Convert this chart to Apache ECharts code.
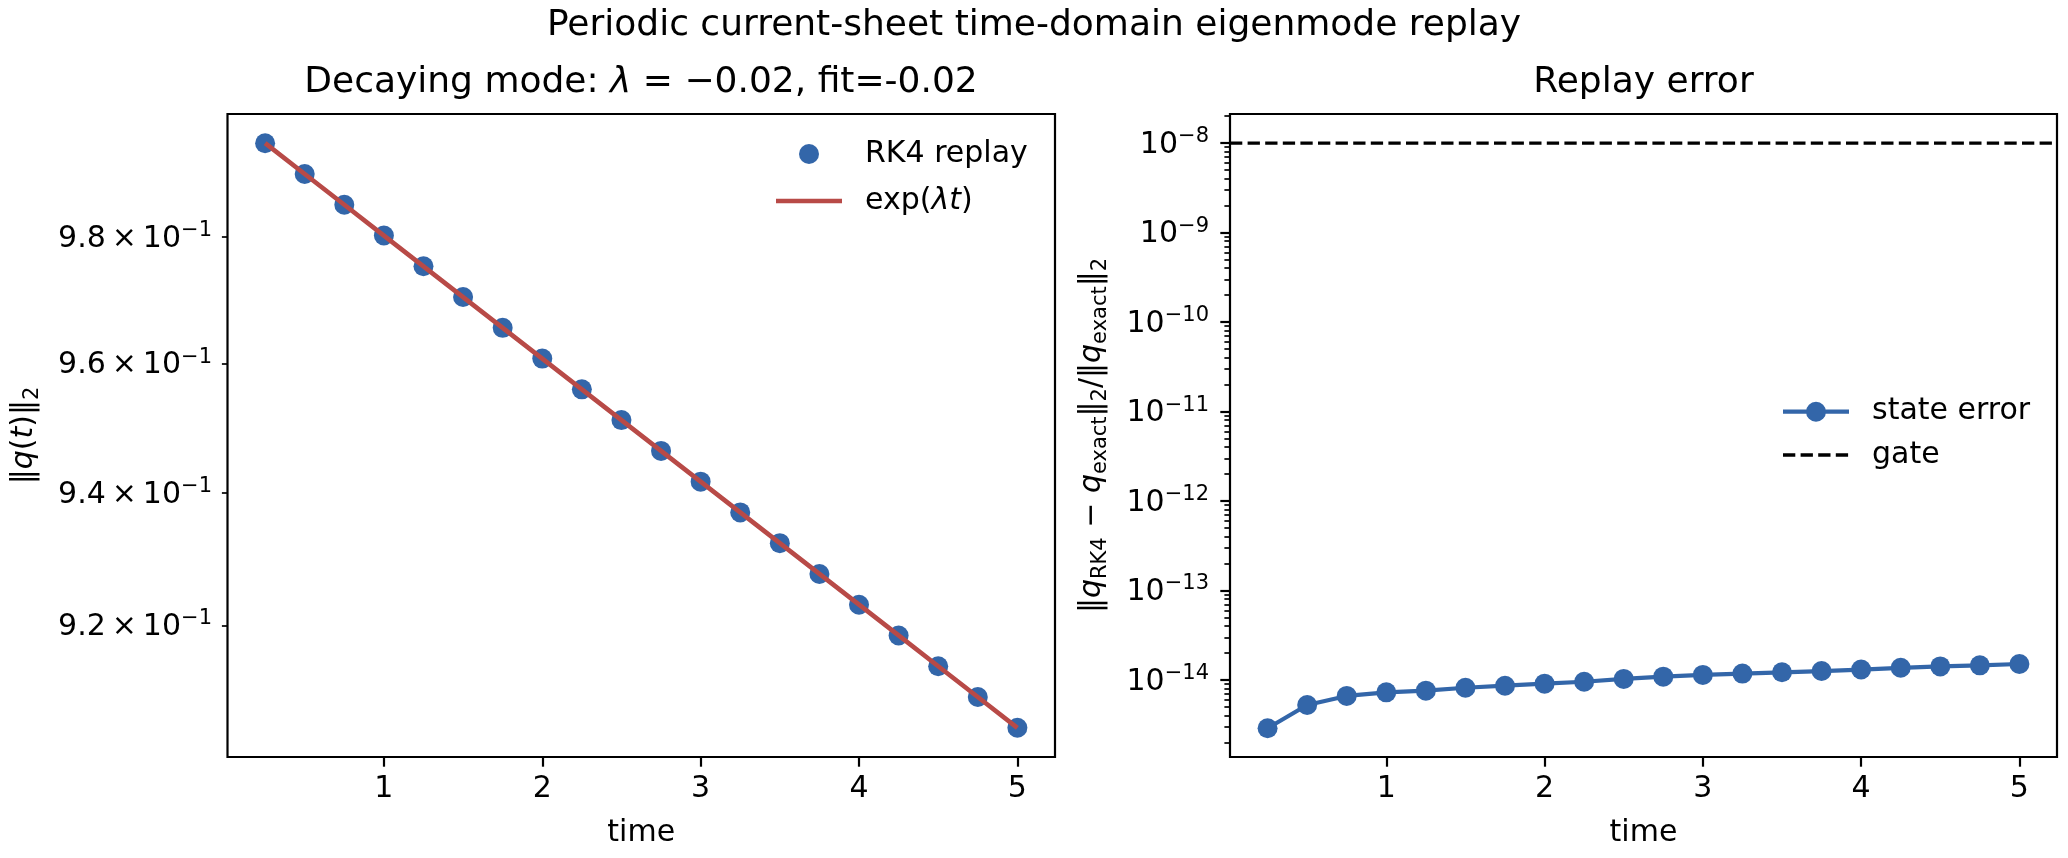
<!DOCTYPE html>
<html>
<head>
<meta charset="utf-8">
<script src="https://cdn.jsdelivr.net/npm/echarts@6/dist/echarts.min.js"></script>
<style>
html,body{margin:0;padding:0;background:#fff;}
#chart{width:2068px;height:858px;}
</style>
</head>
<body>
<div id="chart"></div>
<script>
// ---------------- data ----------------
const times = [0.25, 0.5, 0.75, 1.0, 1.25, 1.5, 1.75, 2.0, 2.25, 2.5,
               2.75, 3.0, 3.25, 3.5, 3.75, 4.0, 4.25, 4.5, 4.75, 5.0];
const rk4Norm = [0.995012, 0.990050, 0.985112, 0.980199, 0.975310, 0.970446, 0.965605, 0.960789, 0.955997, 0.951229,
                 0.946485, 0.941765, 0.937067, 0.932394, 0.927743, 0.923116, 0.918512, 0.913931, 0.909373, 0.904837];
const expNorm = [0.995012, 0.990050, 0.985112, 0.980199, 0.975310, 0.970446, 0.965605, 0.960789, 0.955997, 0.951229,
                 0.946485, 0.941765, 0.937067, 0.932394, 0.927743, 0.923116, 0.918512, 0.913931, 0.909373, 0.904837];
const stateError = [2.89e-15, 5.26e-15, 6.64e-15, 7.29e-15, 7.60e-15, 8.20e-15, 8.64e-15, 9.10e-15, 9.57e-15, 1.03e-14,
                    1.09e-14, 1.14e-14, 1.18e-14, 1.22e-14, 1.26e-14, 1.31e-14, 1.37e-14, 1.42e-14, 1.46e-14, 1.51e-14];
const gateLevel = 1e-8;

const xTicks = [1, 2, 3, 4, 5];
const leftYTicks = [0.92, 0.94, 0.96, 0.98];
const leftYTickLabels = ['9.2', '9.4', '9.6', '9.8'];
const rightYTicks = [1e-14, 1e-13, 1e-12, 1e-11, 1e-10, 1e-9, 1e-8];
const rightYTickExps = ['−14', '−13', '−12', '−11', '−10', '−9', '−8'];

const suptitle = 'Periodic current-sheet time-domain eigenmode replay';
const leftTitle = '{n|Decaying mode: }{i|λ}{n| = −0.02, fit=-0.02}';
const rightTitle = 'Replay error';

// ---------------- styling ----------------
const FONT = 'DejaVu Sans';
const BLUE = '#3366a9';
const RED = '#b84a47';

const xMin = 0.0125, xMax = 5.2375;
const leftYMin = 0.90055, leftYMax = 0.99975;
const rightYMin = 1.38e-15, rightYMax = 2.113e-8;

const rightYMinor = [];
for (let e = -15; e <= -8; e++) {
  for (let m = 2; m <= 9; m++) {
    const v = m * Math.pow(10, e);
    if (v > rightYMin && v < rightYMax) rightYMinor.push(v);
  }
}

const richBase = {
  b: {fontSize: 30, fontFamily: FONT, color: '#000', lineHeight: 30, verticalAlign: 'bottom'},
  s: {fontSize: 21, fontFamily: FONT, color: '#000', lineHeight: 34, padding: [0, 0, 13, 0], verticalAlign: 'bottom'}
};
const richName = {
  n: {fontSize: 30, fontFamily: FONT, color: '#000', lineHeight: 30, verticalAlign: 'top'},
  i: {fontSize: 30, fontFamily: FONT, fontStyle: 'italic', color: '#000', lineHeight: 30, verticalAlign: 'top'},
  sub: {fontSize: 21, fontFamily: FONT, color: '#000', lineHeight: 34, padding: [13, 0, 0, 0], verticalAlign: 'bottom'}
};
const richTitle = {
  n: {fontSize: 36, fontFamily: FONT, color: '#000', lineHeight: 40},
  i: {fontSize: 36, fontFamily: FONT, fontStyle: 'italic', color: '#000', lineHeight: 40}
};
const richLegend = {
  n: {fontSize: 30, fontFamily: FONT, color: '#000', lineHeight: 30},
  i: {fontSize: 30, fontFamily: FONT, fontStyle: 'italic', color: '#000', lineHeight: 30}
};

const ICON_DOT = 'path://M0,0M84,20M43,10A10,10,0,1,1,23,10A10,10,0,1,1,43,10Z';
const ICON_RED = 'path://M0,0M84,20M0,7.65H66V12.35H0Z';
const ICON_LINE_DOT = 'path://M0,0M84,20M0,7.9H66V12.1H0Z M43,10A10,10,0,1,1,23,10A10,10,0,1,1,43,10Z';
const ICON_DASH = 'path://M0,0M84,20M0,8.35H12.3V11.65H0Z M17.6,8.35H29.9V11.65H17.6Z M35.2,8.35H47.5V11.65H35.2Z M52.8,8.35H65.1V11.65H52.8Z';

const legendNames = {
  'RK4 replay': '{n|RK4 replay}',
  'exp(λt)': '{n|exp(}{i|λt}{n|)}',
  'state error': '{n|state error}',
  'gate': '{n|gate}'
};

function pairs(xs, ys) { return xs.map((x, i) => [x, ys[i]]); }

const xAxisCommon = (gi) => ({
  type: 'value', gridIndex: gi, min: xMin, max: xMax, position: 'bottom',
  axisLine: {show: false, onZero: false},
  splitLine: {show: false},
  axisTick: {show: true, customValues: xTicks, length: 9.7, lineStyle: {color: '#000', width: 2.2}},
  axisLabel: {customValues: xTicks, margin: 17, fontSize: 30, fontFamily: FONT, color: '#000'},
  name: 'time', nameLocation: 'middle', nameGap: 61, nameMoveOverlap: false,
  nameTextStyle: {fontSize: 30, fontFamily: FONT, color: '#000', lineHeight: 30}
});

const gridCommon = {show: true, borderColor: '#000', borderWidth: 2.2, backgroundColor: 'transparent',
                    containLabel: false, outerBoundsMode: 'none', top: 114, height: 643};

const option = {
  animation: false,
  backgroundColor: '#fff',
  textStyle: {fontFamily: FONT},
  title: [
    {text: suptitle, left: 1034, top: 6, padding: 0, textAlign: 'center', textVerticalAlign: 'top',
     textStyle: {fontSize: 36, fontWeight: 'normal', fontFamily: FONT, color: '#000', lineHeight: 40}},
    {text: leftTitle, left: 641, top: 63, padding: 0, textAlign: 'center', textVerticalAlign: 'top',
     textStyle: {fontSize: 36, fontWeight: 'normal', fontFamily: FONT, color: '#000', lineHeight: 40, rich: richTitle}},
    {text: rightTitle, left: 1643.5, top: 63, padding: 0, textAlign: 'center', textVerticalAlign: 'top',
     textStyle: {fontSize: 36, fontWeight: 'normal', fontFamily: FONT, color: '#000', lineHeight: 40}}
  ],
  grid: [
    Object.assign({left: 227.5, width: 827.5}, gridCommon),
    Object.assign({left: 1230, width: 827}, gridCommon)
  ],
  legend: [
    {orient: 'vertical', left: 776, top: 139, padding: 0, itemWidth: 84, itemHeight: 20, itemGap: 17,
     selectedMode: false,
     data: [
       {name: 'RK4 replay', icon: ICON_DOT, itemStyle: {color: BLUE, borderWidth: 0}},
       {name: 'exp(λt)', icon: ICON_RED, itemStyle: {color: RED, borderWidth: 0}}
     ],
     formatter: (n) => legendNames[n],
     textStyle: {fontSize: 30, fontFamily: FONT, color: '#000', rich: richLegend}},
    {orient: 'vertical', left: 1783, top: 396.7, padding: 0, itemWidth: 84, itemHeight: 20, itemGap: 13.3,
     selectedMode: false,
     data: [
       {name: 'state error', icon: ICON_LINE_DOT, itemStyle: {color: BLUE, borderWidth: 0}},
       {name: 'gate', icon: ICON_DASH, itemStyle: {color: '#000', borderWidth: 0}}
     ],
     formatter: (n) => legendNames[n],
     textStyle: {fontSize: 30, fontFamily: FONT, color: '#000', rich: richLegend}}
  ],
  xAxis: [xAxisCommon(0), xAxisCommon(1)],
  yAxis: [
    {type: 'log', logBase: 10, gridIndex: 0, position: 'left', min: leftYMin, max: leftYMax,
     axisLine: {show: false, onZero: false}, splitLine: {show: false}, minorTick: {show: false},
     axisTick: {show: true, customValues: leftYTicks, length: 5.6, lineStyle: {color: '#000', width: 1.7}},
     axisLabel: {customValues: leftYTicks, margin: 15.5,
       formatter: (v) => {
         const idx = leftYTicks.findIndex(t => Math.abs(t - v) < 1e-6);
         const m = idx >= 0 ? leftYTickLabels[idx] : (v * 10).toFixed(1);
         return '{b|' + m + '\u2009×\u200910}{s|−1}';
       },
       rich: richBase},
     name: '{n|‖}{i|q}{n|(}{i|t}{n|)‖}{sub|2}', nameLocation: 'middle', nameGap: 184.5, nameMoveOverlap: false,
     nameTextStyle: {rich: richName}},
    {type: 'log', logBase: 10, gridIndex: 1, position: 'left', offset: 0, min: rightYMin, max: rightYMax,
     axisLine: {show: false, onZero: false}, splitLine: {show: false}, minorTick: {show: false},
     axisTick: {show: true, customValues: rightYTicks, length: 9.7, lineStyle: {color: '#000', width: 2.2}},
     axisLabel: {customValues: rightYTicks, margin: 21,
       formatter: (v) => {
         const idx = rightYTicks.findIndex(t => Math.abs(Math.log10(t) - Math.log10(v)) < 1e-6);
         const e = idx >= 0 ? rightYTickExps[idx] : String(Math.round(Math.log10(v))).replace('-', '−');
         return '{b|10}{s|' + e + '}';
       },
       rich: richBase},
     name: '{n|‖}{i|q}{sub|RK4}{n| − }{i|q}{sub|exact}{n|‖}{sub|2}{n|/‖}{i|q}{sub|exact}{n|‖}{sub|2}',
     nameLocation: 'middle', nameGap: 119, nameMoveOverlap: false,
     nameTextStyle: {rich: richName}},
    {type: 'log', logBase: 10, gridIndex: 1, position: 'left', offset: 0, min: rightYMin, max: rightYMax,
     axisLine: {show: false, onZero: false}, splitLine: {show: false}, minorTick: {show: false},
     axisTick: {show: true, customValues: rightYMinor, length: 5.6, lineStyle: {color: '#000', width: 1.7}},
     axisLabel: {show: false}}
  ],
  series: [
    {name: 'RK4 replay', type: 'scatter', xAxisIndex: 0, yAxisIndex: 0,
     data: pairs(times, rk4Norm), symbol: 'circle', symbolSize: 20,
     itemStyle: {color: BLUE, opacity: 1}, z: 2, silent: true},
    {name: 'exp(λt)', type: 'line', xAxisIndex: 0, yAxisIndex: 0,
     data: pairs(times, expNorm), symbol: 'none', showSymbol: false,
     lineStyle: {color: RED, width: 4.7}, itemStyle: {color: RED}, z: 3, silent: true},
    {name: 'gate', type: 'line', xAxisIndex: 1, yAxisIndex: 1,
     data: [[xMin, gateLevel], [xMax, gateLevel]], symbol: 'none', showSymbol: false,
     itemStyle: {color: '#000'}, lineStyle: {color: '#000', width: 3.3, type: [12.3, 5.3]},
     z: 2, silent: true},
    {name: 'state error', type: 'line', xAxisIndex: 1, yAxisIndex: 1,
     data: pairs(times, stateError), symbol: 'circle', symbolSize: 20, showSymbol: true,
     lineStyle: {color: BLUE, width: 4.2}, itemStyle: {color: BLUE, borderWidth: 0}, z: 3, silent: true}
  ]
};

const chart = echarts.init(document.getElementById('chart'), null, {renderer: 'canvas'});
chart.setOption(option);
</script>
</body>
</html>
